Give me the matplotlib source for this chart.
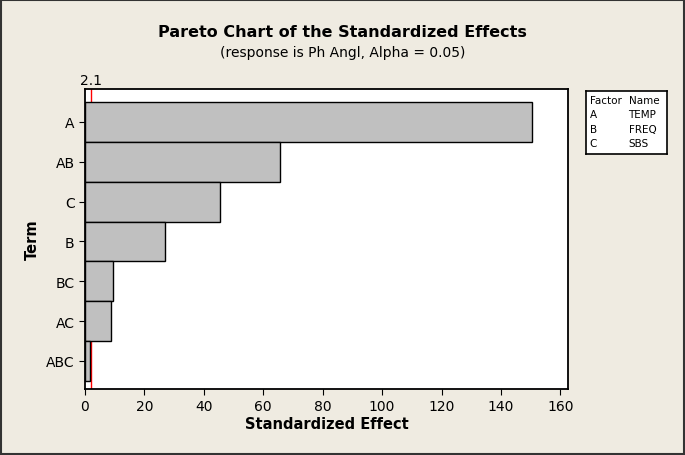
import matplotlib.pyplot as plt

terms = ["A", "AB", "C", "B", "BC", "AC", "ABC"]
effects = [150.5, 65.5, 45.5, 27.0, 9.5, 8.8, 1.7]
ref_value = 2.1
legend_rows = [("Factor", "Name"), ("A", "TEMP"), ("B", "FREQ"), ("C", "SBS")]

bg = "#efebe1"
fig = plt.figure(figsize=(6.85, 4.56), dpi=100, facecolor=bg)
ax = fig.add_axes([0.124, 0.145, 0.705, 0.658])

ypos = list(range(len(terms)))
ax.barh(ypos, effects, height=1.0, color="#c0c0c0", edgecolor="black", linewidth=1, zorder=2)
# reference line sits behind the bars
ax.axvline(ref_value, color="red", linewidth=1, zorder=1)
ax.set_ylim(len(terms) - 0.3, -0.83)
ax.set_xlim(0, 162.5)
ax.set_yticks(ypos)
ax.set_yticklabels(terms)
ax.set_xticks(range(0, 161, 20))
ax.tick_params(labelsize=10, length=4, color="black")
for s in ax.spines.values():
    s.set_linewidth(1.3)
    s.set_zorder(3)

ax.text(ref_value, -0.88, "2.1", ha="center", va="bottom", fontsize=10)
ax.set_xlabel("Standardized Effect", fontsize=10.5, fontweight="bold", labelpad=2)
ax.set_ylabel("Term", fontsize=10.5, fontweight="bold", labelpad=4)

fig.text(0.5, 0.918, "Pareto Chart of the Standardized Effects", ha="center",
         fontsize=11.5, fontweight="bold")
fig.text(0.5, 0.875, "(response is Ph Angl, Alpha = 0.05)", ha="center", fontsize=10)

# factor legend box
box = fig.add_axes([0.855, 0.66, 0.118, 0.138])
box.set_xticks([])
box.set_yticks([])
box.set_facecolor("white")
for s in box.spines.values():
    s.set_linewidth(1.2)
for i, (f, n) in enumerate(legend_rows):
    y = 0.86 - i * 0.23
    box.text(0.05, y, f, fontsize=7.5, va="center", transform=box.transAxes)
    box.text(0.53, y, n, fontsize=7.5, va="center", transform=box.transAxes)

fig.patches.append(plt.Rectangle((0.002, 0.002), 0.996, 0.996, transform=fig.transFigure,
                                 fill=False, edgecolor="#333333", linewidth=1.5))

fig.savefig("out.png", dpi=100, facecolor=bg)
